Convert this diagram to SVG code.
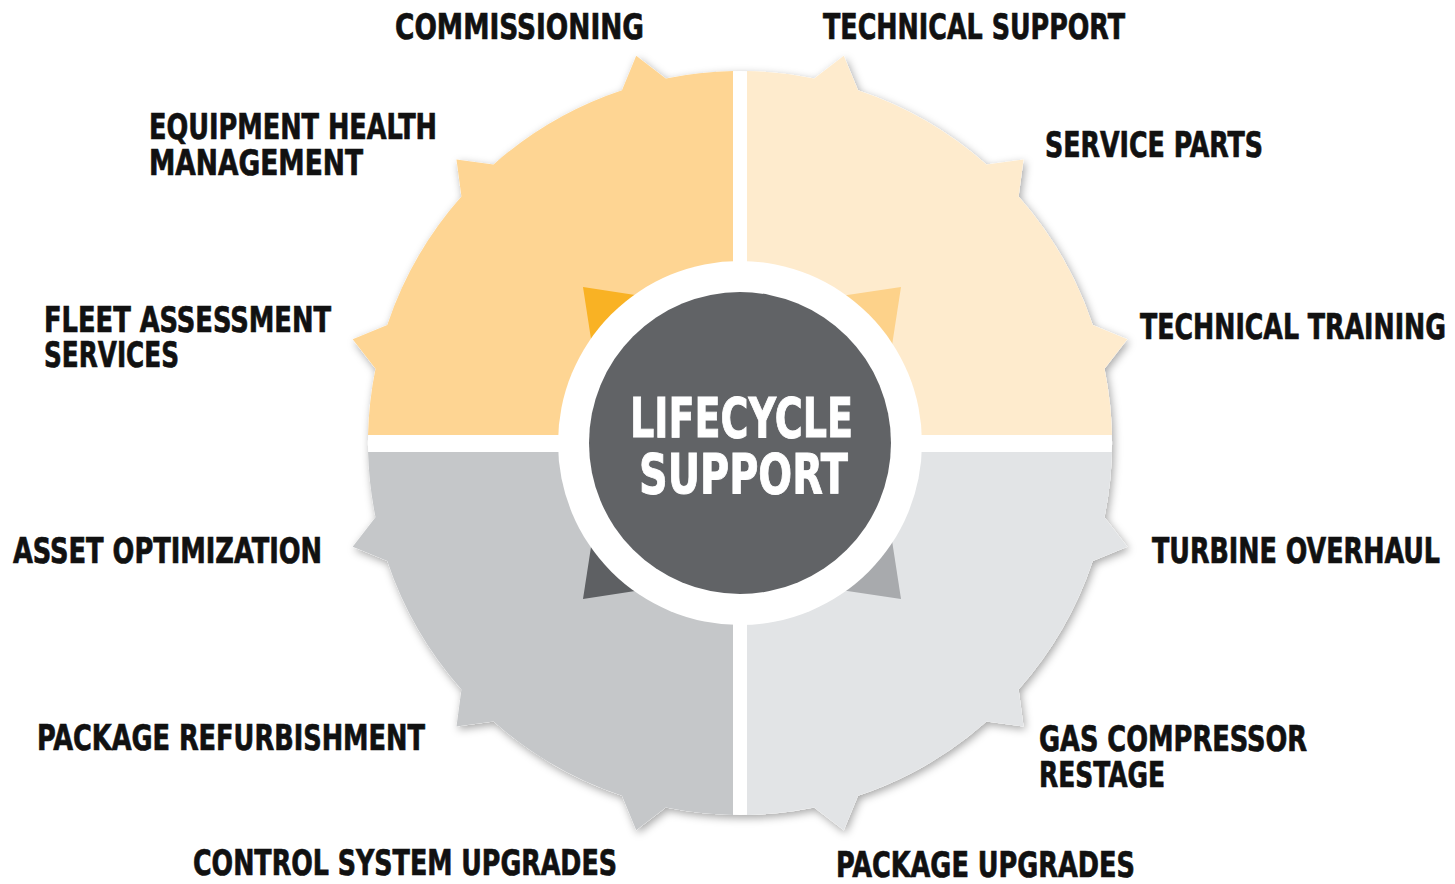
<svg xmlns="http://www.w3.org/2000/svg" width="1455" height="884" viewBox="0 0 1455 884">
<style>
.lbl{font-family:"Liberation Sans Narrow","DejaVu Sans Condensed","Liberation Sans",sans-serif;font-weight:bold;font-size:36px;fill:#111111;stroke:#111111;stroke-width:0.7px}
.ctr{font-family:"Liberation Sans Narrow","DejaVu Sans Condensed","Liberation Sans",sans-serif;font-weight:bold;font-size:56px;fill:#ffffff;stroke:#ffffff;stroke-width:0.9px}
</style>
<defs>
<path id="gear" d="M1104.53,517.17 L1127.34,546.79 L1092.77,561.04 A372,372 0 0 1 1018.61,689.49 L1023.55,726.55 L986.49,721.61 A372,372 0 0 1 858.04,795.77 L843.79,830.34 L814.17,807.53 A372,372 0 0 1 665.83,807.53 L636.21,830.34 L621.96,795.77 A372,372 0 0 1 493.51,721.61 L456.45,726.55 L461.39,689.49 A372,372 0 0 1 387.23,561.04 L352.66,546.79 L375.47,517.17 A372,372 0 0 1 375.47,368.83 L352.66,339.21 L387.23,324.96 A372,372 0 0 1 461.39,196.51 L456.45,159.45 L493.51,164.39 A372,372 0 0 1 621.96,90.23 L636.21,55.66 L665.83,78.47 A372,372 0 0 1 814.17,78.47 L843.79,55.66 L858.04,90.23 A372,372 0 0 1 986.49,164.39 L1023.55,159.45 L1018.61,196.51 A372,372 0 0 1 1092.77,324.96 L1127.34,339.21 L1104.53,368.83 A372,372 0 0 1 1104.53,517.17 Z"/>
<clipPath id="cTL"><rect x="0" y="0" width="733" height="435"/></clipPath>
<clipPath id="cTR"><rect x="747" y="0" width="708" height="435"/></clipPath>
<clipPath id="cBL"><rect x="0" y="452" width="733" height="432"/></clipPath>
<clipPath id="cBR"><rect x="747" y="452" width="708" height="432"/></clipPath>
<filter id="sh" x="-10%" y="-10%" width="120%" height="120%">
<feDropShadow dx="2" dy="3" stdDeviation="4" flood-color="#000000" flood-opacity="0.35"/>
</filter>
</defs>
<rect x="0" y="0" width="1455" height="884" fill="#ffffff"/>
<g id="gear-wheel">
<use href="#gear" fill="#ffffff" filter="url(#sh)"/>
<use href="#gear" fill="#FED593" clip-path="url(#cTL)"/>
<use href="#gear" fill="#FEEBCD" clip-path="url(#cTR)"/>
<use href="#gear" fill="#C5C7C9" clip-path="url(#cBL)"/>
<use href="#gear" fill="#E2E4E6" clip-path="url(#cBR)"/>
<polygon points="740,443 740,311 583,287 607,443" fill="#F9B224" clip-path="url(#cTL)"/>
<polygon points="740,443 740,311 901,287 877,443" fill="#FDD28A" clip-path="url(#cTR)"/>
<polygon points="740,443 740,575 583,599 607,443" fill="#5E6063" clip-path="url(#cBL)"/>
<polygon points="740,443 740,575 901,599 877,443" fill="#A8AAAD" clip-path="url(#cBR)"/>
</g>
<g id="center">
<circle cx="740" cy="443" r="182" fill="#ffffff"/>
<circle cx="740" cy="443" r="151" fill="#616366"/>
<text class="ctr" x="630" y="437" textLength="223" lengthAdjust="spacingAndGlyphs">LIFECYCLE</text>
<text class="ctr" x="639" y="493" textLength="209" lengthAdjust="spacingAndGlyphs">SUPPORT</text>
</g>
<g id="connectors"></g>
<g id="n-commissioning"><text class="lbl" x="395" y="39" textLength="249" lengthAdjust="spacingAndGlyphs">COMMISSIONING</text></g>
<g id="n-technical-support"><text class="lbl" x="823" y="39" textLength="302" lengthAdjust="spacingAndGlyphs">TECHNICAL SUPPORT</text></g>
<g id="n-equipment-health"><text class="lbl" x="149" y="139" textLength="288" lengthAdjust="spacingAndGlyphs">EQUIPMENT HEALTH</text><text class="lbl" x="149" y="175" textLength="214" lengthAdjust="spacingAndGlyphs">MANAGEMENT</text></g>
<g id="n-service-parts"><text class="lbl" x="1045" y="157" textLength="218" lengthAdjust="spacingAndGlyphs">SERVICE PARTS</text></g>
<g id="n-fleet-assessment"><text class="lbl" x="44" y="332" textLength="287" lengthAdjust="spacingAndGlyphs">FLEET ASSESSMENT</text><text class="lbl" x="44" y="367" textLength="135" lengthAdjust="spacingAndGlyphs">SERVICES</text></g>
<g id="n-technical-training"><text class="lbl" x="1140" y="339" textLength="306" lengthAdjust="spacingAndGlyphs">TECHNICAL TRAINING</text></g>
<g id="n-asset-optimization"><text class="lbl" x="13" y="563" textLength="309" lengthAdjust="spacingAndGlyphs">ASSET OPTIMIZATION</text></g>
<g id="n-turbine-overhaul"><text class="lbl" x="1152" y="563" textLength="288" lengthAdjust="spacingAndGlyphs">TURBINE OVERHAUL</text></g>
<g id="n-package-refurbishment"><text class="lbl" x="37" y="750" textLength="388" lengthAdjust="spacingAndGlyphs">PACKAGE REFURBISHMENT</text></g>
<g id="n-gas-compressor"><text class="lbl" x="1039" y="751" textLength="268" lengthAdjust="spacingAndGlyphs">GAS COMPRESSOR</text><text class="lbl" x="1039" y="787" textLength="126" lengthAdjust="spacingAndGlyphs">RESTAGE</text></g>
<g id="n-control-system"><text class="lbl" x="193" y="875" textLength="424" lengthAdjust="spacingAndGlyphs">CONTROL SYSTEM UPGRADES</text></g>
<g id="n-package-upgrades"><text class="lbl" x="836" y="877" textLength="299" lengthAdjust="spacingAndGlyphs">PACKAGE UPGRADES</text></g>
</svg>
